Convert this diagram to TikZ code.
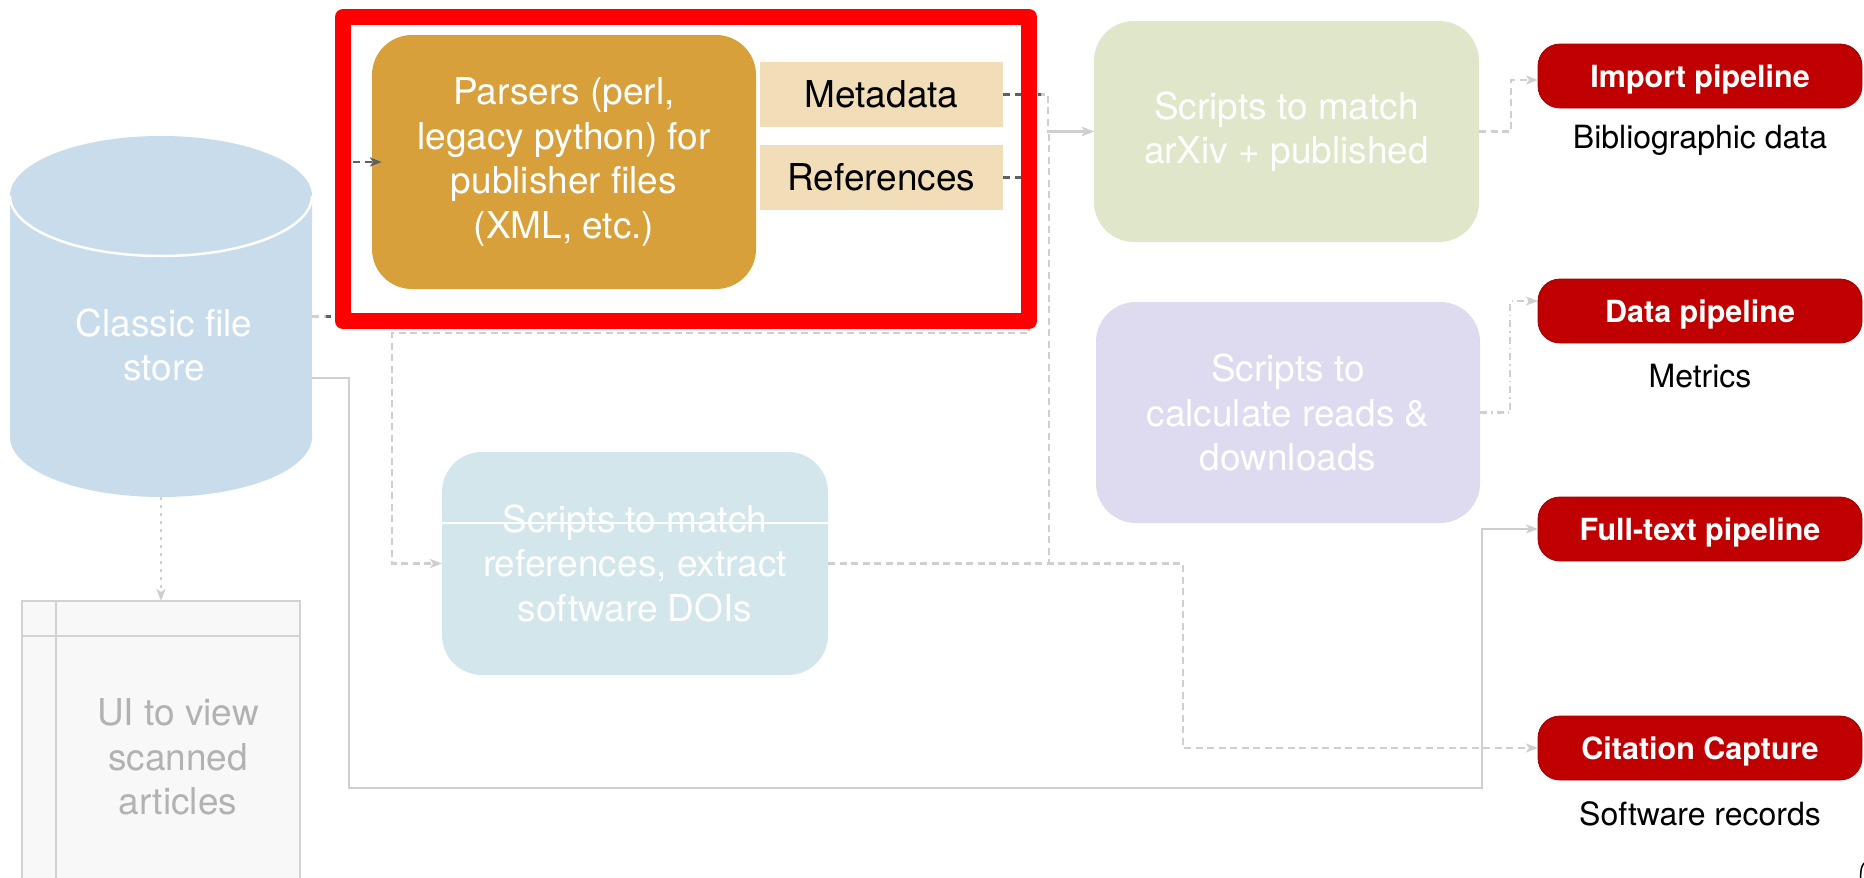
\documentclass[tikz,border=0pt]{standalone}
\usepackage{fontspec}
\setmainfont{TeX Gyre Heros}
\usetikzlibrary{arrows.meta,calc}
\definecolor{orangebox}{HTML}{D7A03B}
\definecolor{wheatbox}{HTML}{F2DDB9}
\definecolor{cylfill}{HTML}{C9DCEB}
\definecolor{greenbox}{HTML}{DFE6CA}
\definecolor{purplebox}{HTML}{DEDBF0}
\definecolor{tealbox}{HTML}{D2E6EB}
\definecolor{pipered}{HTML}{C00000}
\definecolor{pipeedge}{HTML}{A00000}
\definecolor{framered}{HTML}{FF0000}
\definecolor{lightline}{HTML}{CFCFCF}
\definecolor{darkline}{HTML}{5F5F5F}
\definecolor{uifill}{HTML}{F8F8F8}
\definecolor{uiline}{HTML}{D2D2D2}
\definecolor{uitextc}{HTML}{B2B2B2}
\begin{document}
\begin{tikzpicture}[x=1pt,y=-1pt,
  boxtext/.style={text=white,align=center,font=\fontsize{37}{44.5}\selectfont},
  roundbox/.style={boxtext,rounded corners=40pt,inner sep=0pt,outer sep=0pt,anchor=north west},
  tagbox/.style={fill=wheatbox,inner sep=0pt,outer sep=0pt,anchor=north west,
    minimum width=243pt,minimum height=65pt,font=\fontsize{37}{44.5}\selectfont},
  pipebox/.style={fill=pipered,draw=pipeedge,line width=0.8pt,rounded corners=22pt,
    inner sep=0pt,outer sep=0pt,anchor=north west,minimum width=324pt,minimum height=64pt,
    text=white,font=\bfseries\fontsize{30.5}{36}\selectfont,text height=22pt,text depth=0pt},
  lbl/.style={anchor=base,font=\fontsize{32}{38}\selectfont,text=black},
  conn/.style={lightline,line width=2.2pt},
  dashedconn/.style={conn,dash pattern=on 7pt off 4.5pt},
  arr/.style={-{Stealth[length=12pt,width=9pt,inset=3pt]}}
]
\useasboundingbox (0,0) rectangle (1864,878);
\clip (0,0) rectangle (1864,878);
\fill[white] (0,0) rectangle (1864,878);

% cylinder
\fill[cylfill] (10,196) -- (10,437) arc[start angle=180,end angle=0,x radius=151,y radius=60] -- (312,196) -- cycle;
\fill[cylfill] (161,196) ellipse[x radius=151,y radius=60];
\draw[white,line width=2.5pt] (10,196) arc[start angle=180,end angle=0,x radius=151,y radius=60];
\node[minimum width=302pt,minimum height=361pt,inner sep=0pt,outer sep=0pt] (cyl) at (161,316.5) {};
\node[boxtext] (cyltext) at (164,345) {Classic file\\store};

% UI box
\node[draw=uiline,fill=uifill,line width=2.5pt,minimum width=278pt,minimum height=360pt,
  inner sep=0pt,outer sep=0pt,anchor=north] (ui) at (161,601) {};
\draw[uiline,line width=2.5pt] ($(ui.north west)+(34,0)$) -- ($(ui.south west)+(34,0)$);
\draw[uiline,line width=2.5pt] ($(ui.north west)+(0,35)$) -- ($(ui.north east)+(0,35)$);
\node[font=\fontsize{37}{44.5}\selectfont,text=uitextc,align=center] (uitext) at (178,757) {UI to view\\scanned\\articles};

% process boxes
\node[roundbox,fill=orangebox,minimum width=384pt,minimum height=254pt] (parsers) at (372,35)
  {Parsers (perl,\\legacy python) for\\publisher files\\(XML, etc.)};
\node[tagbox] (meta) at (760,62) {Metadata};
\node[tagbox] (refs) at (760,145) {References};
\node[roundbox,fill=greenbox,minimum width=385pt,minimum height=221pt] (green) at (1094,21)
  {Scripts to match\\arXiv + published};
\node[roundbox,fill=purplebox,minimum width=384pt,minimum height=221pt] (purple) at (1096,302)
  {Scripts to\\calculate reads \&\\downloads};
\node[roundbox,fill=tealbox,minimum width=386pt,minimum height=223pt] (teal) at (442,452)
  {Scripts to match\\references, extract\\software DOIs};
\draw[white,line width=1.2pt] ($(teal.west)+(0,-40.5)$) -- ($(teal.east)+(0,-40.5)$);

% pipelines
\node[pipebox] (import) at (1538,44) {Import pipeline};
\node[pipebox] (data) at (1538,279) {Data pipeline};
\node[pipebox] (fulltext) at (1538,497) {Full-text pipeline};
\node[pipebox] (citation) at (1538,716) {Citation Capture};
\node[lbl] (biblbl) at (1700,148) {Bibliographic data};
\node[lbl] (metlbl) at (1700,387) {Metrics};
\node[lbl] (swlbl) at (1700,825) {Software records};

% connectors
\draw[dashedconn,arr] (cyl.east) -- ($(cyl.east)+(31,0)$) |- ($(parsers.west)+(10,0)$);
\draw[dashedconn,arr] (meta.east) -- ++(45,0) |- (green.west);
\draw[dashedconn,arr] (refs.east) -| (1029,333) -| ($(teal.west)+(-50,0)$) -- (teal.west);
\draw[dashedconn,arr] (teal.east) -| ($(green.west)+(-45,0)$) -- (green.west);
\draw[dashedconn,arr] (teal.east) -| ($(citation.west)+(-355,0)$) -- (citation.west);
\draw[dashedconn,arr] (green.east) -- ++(32,0) |- ($(import.west)+(0,4)$);
\draw[conn,dash pattern=on 7pt off 4pt on 1.5pt off 4pt,arr] (purple.east) -- ++(30,0) |- ($(data.west)+(0,-10)$);
\draw[conn,arr] ($(cyl.east)+(0,61.5)$) -| (349,788) -| ($(fulltext.west)+(-56,0)$) -- (fulltext.west);
\draw[conn,dash pattern=on 2.5pt off 5.5pt,arr] (cyl.south) -- (ui.north);

% highlighted (dark) parts inside frame
\begin{scope}
\clip (326,0) rectangle (1041,329);
\draw[dashedconn,darkline,arr] (cyl.east) -- ($(cyl.east)+(31,0)$) |- ($(parsers.west)+(10,0)$);
\draw[dashedconn,darkline] (meta.east) -- ++(45,0);
\draw[dashedconn,darkline] (refs.east) -- ++(26,0);
\end{scope}

% red highlight frame
\node[draw=framered,line width=16pt,line join=round,minimum width=686pt,minimum height=304pt,
  inner sep=0pt,outer sep=0pt,anchor=north west] (frame) at (343,17) {};

% cut-off mark at bottom right
\draw[black,line width=1.5pt] (1864,863) .. controls (1861,868) .. (1860.5,878);
\end{tikzpicture}
\end{document}
